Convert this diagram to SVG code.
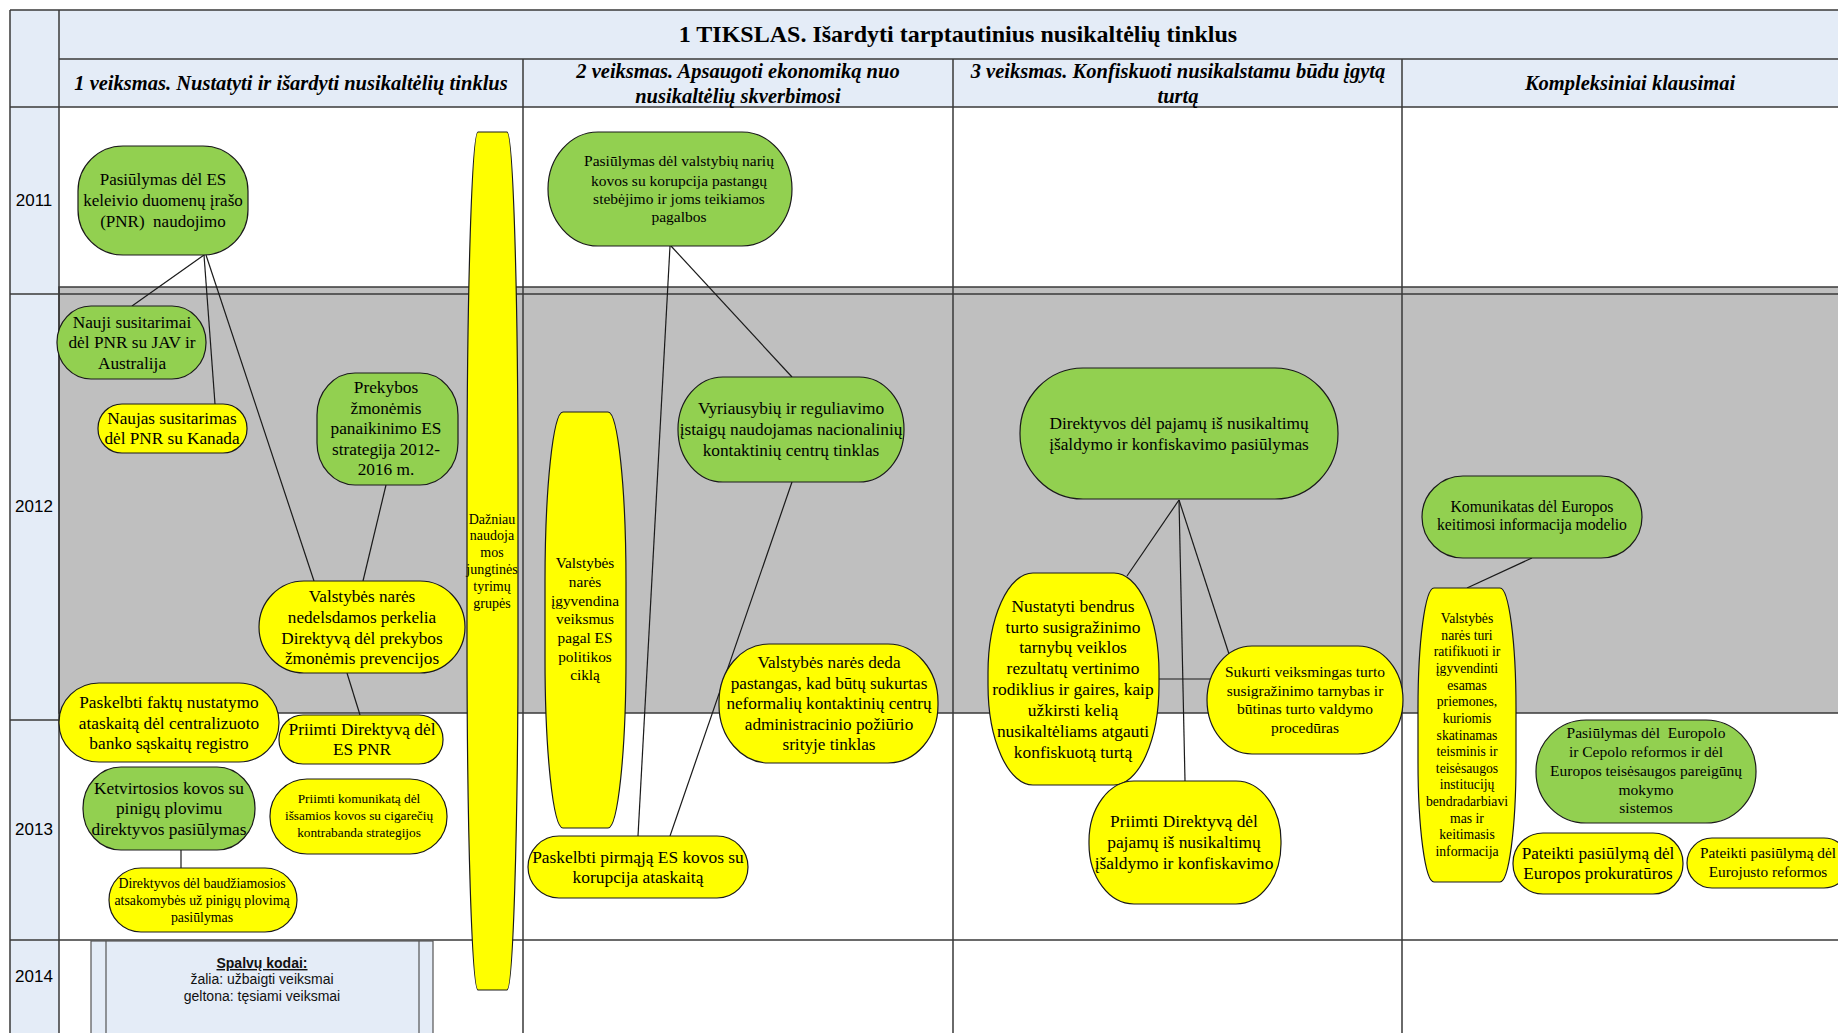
<svg xmlns="http://www.w3.org/2000/svg" width="1838" height="1033" viewBox="0 0 1838 1033">
<style>
.hdr{fill:#E4ECF7}
.grid{stroke:#3a3a3a;stroke-width:1.5;fill:none}
.g{fill:#92D050;stroke:#1a1a1a;stroke-width:1.2}
.y{fill:#FFFF00;stroke:#1a1a1a;stroke-width:1.2}
.t{font-family:"Liberation Serif","Times New Roman",serif;fill:#000;text-anchor:middle}
.yr{font-family:"Liberation Sans",Arial,sans-serif;font-size:17px;fill:#000;text-anchor:middle}
.h{font-family:"Liberation Serif","Times New Roman",serif;font-weight:bold;font-style:italic;font-size:20.5px;text-anchor:middle;fill:#000}
.c{stroke:#1a1a1a;stroke-width:1.2;fill:none}
.lg{font-family:"Liberation Sans",Arial,sans-serif;font-size:14px;text-anchor:middle;fill:#111}
</style>
<rect width="1838" height="1033" fill="#fff"/>
<g id="table">
<rect class="hdr" x="10" y="10" width="49" height="1030"/>
<rect class="hdr" x="59" y="10" width="1790" height="97"/>
<rect x="59" y="287" width="1790" height="426" fill="#BFBFBF" stroke="#3a3a3a" stroke-width="1.5"/>
<path class="grid" d="M10 10H1838M10 10V1040M59 10V1040M59 59H1838M10 107H1838M10 294H1838M10 720H59M10 940H1838M523 59V1040M953 59V1040M1402 59V1040"/>
<text class="t" x="958" y="42" font-size="24" font-weight="bold">1 TIKSLAS. Išardyti tarptautinius nusikaltėlių tinklus</text>
<text class="h" x="291" y="90">1 veiksmas. Nustatyti ir išardyti nusikaltėlių tinklus</text>
<text class="h" x="738" y="78">2 veiksmas. Apsaugoti ekonomiką nuo</text>
<text class="h" x="738" y="103">nusikaltėlių skverbimosi</text>
<text class="h" x="1178" y="78">3 veiksmas. Konfiskuoti nusikalstamu būdu įgytą</text>
<text class="h" x="1178" y="103">turtą</text>
<text class="h" x="1630" y="90">Kompleksiniai klausimai</text>
<text class="yr" x="34" y="206">2011</text>
<text class="yr" x="34" y="512">2012</text>
<text class="yr" x="34" y="835">2013</text>
<text class="yr" x="34" y="982">2014</text>
</g>
<g id="legend">
<rect x="91" y="941" width="342" height="100" fill="#E4ECF7" stroke="#555" stroke-width="1.2"/>
<path d="M106 941V1040M419 941V1040" stroke="#555" stroke-width="1.2"/>
<text class="lg" x="262" y="968" font-weight="bold" text-decoration="underline">Spalvų kodai:</text>
<text class="lg" x="262" y="984">žalia: užbaigti veiksmai</text>
<text class="lg" x="262" y="1001">geltona: tęsiami veiksmai</text>
</g>
<g id="connectors">
<line class="c" x1="204" y1="255" x2="132" y2="306"/>
<line class="c" x1="204" y1="255" x2="215" y2="404"/>
<line class="c" x1="206" y1="255" x2="314" y2="581"/>
<line class="c" x1="386" y1="485" x2="363" y2="581"/>
<line class="c" x1="347" y1="673" x2="360" y2="715"/>
<line class="c" x1="181" y1="850" x2="181" y2="868"/>
<line class="c" x1="671" y1="246" x2="792" y2="377"/>
<line class="c" x1="670" y1="246" x2="638" y2="836"/>
<line class="c" x1="792" y1="482" x2="670" y2="836"/>
<line class="c" x1="1179" y1="500" x2="1127" y2="576"/>
<line class="c" x1="1179" y1="500" x2="1185" y2="781"/>
<line class="c" x1="1179" y1="500" x2="1229" y2="654"/>
<line class="c" x1="1158" y1="679" x2="1210" y2="679"/>
<line class="c" x1="1532" y1="558" x2="1467" y2="588"/>
</g>
<g id="n1"><rect class="g" x="78" y="146" width="170" height="109" rx="45" ry="45"/>
<text class="t" font-size="17" style="white-space:pre"><tspan x="163" y="185">Pasiūlymas dėl ES</tspan><tspan x="163" y="206">keleivio duomenų įrašo</tspan><tspan x="163" y="227">(PNR)  naudojimo</tspan></text></g>
<g id="n2"><rect class="g" x="57" y="306" width="149" height="73" rx="34" ry="36"/>
<text class="t" font-size="17.3"><tspan x="132" y="328">Nauji susitarimai</tspan><tspan x="132" y="348">dėl PNR su JAV ir</tspan><tspan x="132" y="369">Australija</tspan></text></g>
<g id="n3"><rect class="y" x="98" y="404" width="149" height="49" rx="24" ry="24"/>
<text class="t" font-size="17.2"><tspan x="172" y="424">Naujas susitarimas</tspan><tspan x="172" y="444">dėl PNR su Kanada</tspan></text></g>
<g id="n4"><rect class="g" x="317" y="373" width="141" height="112" rx="38" ry="42"/>
<text class="t" font-size="17.3"><tspan x="386" y="393">Prekybos</tspan><tspan x="386" y="414">žmonėmis</tspan><tspan x="386" y="434">panaikinimo ES</tspan><tspan x="386" y="455">strategija 2012-</tspan><tspan x="386" y="475">2016 m.</tspan></text></g>
<g id="n5"><rect class="y" x="259" y="581" width="206" height="92" rx="45" ry="46"/>
<text class="t" font-size="17.2"><tspan x="362" y="602">Valstybės narės</tspan><tspan x="362" y="623">nedelsdamos perkelia</tspan><tspan x="362" y="644">Direktyvą dėl prekybos</tspan><tspan x="362" y="664">žmonėmis prevencijos</tspan></text></g>
<g id="n6"><rect class="y" x="59" y="683" width="220" height="79" rx="40" ry="39"/>
<text class="t" font-size="17.3"><tspan x="169" y="708">Paskelbti faktų nustatymo</tspan><tspan x="169" y="729">ataskaitą dėl centralizuoto</tspan><tspan x="169" y="749">banko sąskaitų registro</tspan></text></g>
<g id="n7"><rect class="y" x="279" y="715" width="164" height="49" rx="24" ry="24"/>
<text class="t" font-size="17.3"><tspan x="362" y="735">Priimti Direktyvą dėl</tspan><tspan x="362" y="755">ES PNR</tspan></text></g>
<g id="n8"><rect class="g" x="83" y="767" width="172" height="83" rx="38" ry="41"/>
<text class="t" font-size="17.3"><tspan x="169" y="794">Ketvirtosios kovos su</tspan><tspan x="169" y="814">pinigų plovimu</tspan><tspan x="169" y="835">direktyvos pasiūlymas</tspan></text></g>
<g id="n9"><rect class="y" x="270" y="779" width="177" height="75" rx="37" ry="37"/>
<text class="t" font-size="13.3"><tspan x="359" y="803">Priimti komunikatą dėl</tspan><tspan x="359" y="820">išsamios kovos su cigarečių</tspan><tspan x="359" y="837">kontrabanda strategijos</tspan></text></g>
<g id="n10"><rect class="y" x="109" y="868" width="188" height="64" rx="32" ry="32"/>
<text class="t" font-size="13.8"><tspan x="202" y="888">Direktyvos dėl baudžiamosios</tspan><tspan x="202" y="905">atsakomybės už pinigų plovimą</tspan><tspan x="202" y="922">pasiūlymas</tspan></text></g>
<g id="n11"><rect class="y" x="467" y="132" width="51" height="858" rx="11" ry="350"/>
<text class="t" font-size="14"><tspan x="492" y="524">Dažniau</tspan><tspan x="492" y="540">naudoja</tspan><tspan x="492" y="557">mos</tspan><tspan x="492" y="574">jungtinės</tspan><tspan x="492" y="591">tyrimų</tspan><tspan x="492" y="608">grupės</tspan></text></g>
<g id="n12"><rect class="g" x="548" y="132" width="244" height="114" rx="50" ry="57"/>
<text class="t" font-size="15.5"><tspan x="679" y="166">Pasiūlymas dėl valstybių narių</tspan><tspan x="679" y="186">kovos su korupcija pastangų</tspan><tspan x="679" y="204">stebėjimo ir joms teikiamos</tspan><tspan x="679" y="222">pagalbos</tspan></text></g>
<g id="n13"><rect class="g" x="678" y="377" width="226" height="105" rx="45" ry="52"/>
<text class="t" font-size="17.3"><tspan x="791" y="414">Vyriausybių ir reguliavimo</tspan><tspan x="791" y="435">įstaigų naudojamas nacionalinių</tspan><tspan x="791" y="456">kontaktinių centrų tinklas</tspan></text></g>
<g id="n14"><rect class="y" x="545" y="412" width="81" height="416" rx="18" ry="170"/>
<text class="t" font-size="15.3"><tspan x="585" y="568">Valstybės</tspan><tspan x="585" y="587">narės</tspan><tspan x="585" y="606">įgyvendina</tspan><tspan x="585" y="624">veiksmus</tspan><tspan x="585" y="643">pagal ES</tspan><tspan x="585" y="662">politikos</tspan><tspan x="585" y="680">ciklą</tspan></text></g>
<g id="n15"><rect class="y" x="719" y="644" width="219" height="119" rx="50" ry="58"/>
<text class="t" font-size="17.2"><tspan x="829" y="668">Valstybės narės deda</tspan><tspan x="829" y="689">pastangas, kad būtų sukurtas</tspan><tspan x="829" y="709">neformalių kontaktinių centrų</tspan><tspan x="829" y="730">administracinio požiūrio</tspan><tspan x="829" y="750">srityje tinklas</tspan></text></g>
<g id="n16"><rect class="y" x="528" y="836" width="220" height="62" rx="31" ry="31"/>
<text class="t" font-size="17.4"><tspan x="638" y="863">Paskelbti pirmąją ES kovos su</tspan><tspan x="638" y="883">korupcija ataskaitą</tspan></text></g>
<g id="n17"><rect class="g" x="1020" y="368" width="318" height="131" rx="63" ry="65"/>
<text class="t" font-size="17.3"><tspan x="1179" y="429">Direktyvos dėl pajamų iš nusikaltimų</tspan><tspan x="1179" y="450">įšaldymo ir konfiskavimo pasiūlymas</tspan></text></g>
<g id="n18"><rect class="y" x="988" y="573" width="171" height="212" rx="45" ry="100"/>
<text class="t" font-size="17.4"><tspan x="1073" y="612">Nustatyti bendrus</tspan><tspan x="1073" y="633">turto susigražinimo</tspan><tspan x="1073" y="653">tarnybų veiklos</tspan><tspan x="1073" y="674">rezultatų vertinimo</tspan><tspan x="1073" y="695">rodiklius ir gaires, kaip</tspan><tspan x="1073" y="716">užkirsti kelią</tspan><tspan x="1073" y="737">nusikaltėliams atgauti</tspan><tspan x="1073" y="758">konfiskuotą turtą</tspan></text></g>
<g id="n19"><rect class="y" x="1207" y="646" width="196" height="108" rx="45" ry="54"/>
<text class="t" font-size="15.5"><tspan x="1305" y="677">Sukurti veiksmingas turto</tspan><tspan x="1305" y="696">susigražinimo tarnybas ir</tspan><tspan x="1305" y="714">būtinas turto valdymo</tspan><tspan x="1305" y="733">procedūras</tspan></text></g>
<g id="n20"><rect class="y" x="1089" y="781" width="192" height="123" rx="45" ry="60"/>
<text class="t" font-size="17.4"><tspan x="1184" y="827">Priimti Direktyvą dėl</tspan><tspan x="1184" y="848">pajamų iš nusikaltimų</tspan><tspan x="1184" y="869">įšaldymo ir konfiskavimo</tspan></text></g>
<g id="n21"><rect class="g" x="1422" y="476" width="220" height="82" rx="41" ry="41"/>
<text class="t" font-size="15.7"><tspan x="1532" y="512">Komunikatas dėl Europos</tspan><tspan x="1532" y="530">keitimosi informacija modelio</tspan></text></g>
<g id="n22"><rect class="y" x="1418" y="588" width="98" height="294" rx="16" ry="120"/>
<text class="t" font-size="13.7"><tspan x="1467" y="623">Valstybės</tspan><tspan x="1467" y="640">narės turi</tspan><tspan x="1467" y="656">ratifikuoti ir</tspan><tspan x="1467" y="673">įgyvendinti</tspan><tspan x="1467" y="690">esamas</tspan><tspan x="1467" y="706">priemones,</tspan><tspan x="1467" y="723">kuriomis</tspan><tspan x="1467" y="740">skatinamas</tspan><tspan x="1467" y="756">teisminis ir</tspan><tspan x="1467" y="773">teisėsaugos</tspan><tspan x="1467" y="789">institucijų</tspan><tspan x="1467" y="806">bendradarbiavi</tspan><tspan x="1467" y="823">mas ir</tspan><tspan x="1467" y="839">keitimasis</tspan><tspan x="1467" y="856">informacija</tspan></text></g>
<g id="n23"><rect class="g" x="1536" y="720" width="220" height="103" rx="50" ry="51"/>
<text class="t" font-size="15.5" style="white-space:pre"><tspan x="1646" y="738">Pasiūlymas dėl  Europolo</tspan><tspan x="1646" y="757">ir Cepolo reformos ir dėl</tspan><tspan x="1646" y="776">Europos teisėsaugos pareigūnų</tspan><tspan x="1646" y="795">mokymo</tspan><tspan x="1646" y="813">sistemos</tspan></text></g>
<g id="n24"><rect class="y" x="1513" y="833" width="170" height="61" rx="30" ry="30"/>
<text class="t" font-size="17.2"><tspan x="1598" y="859">Pateikti pasiūlymą dėl</tspan><tspan x="1598" y="879">Europos prokuratūros</tspan></text></g>
<g id="n25"><rect class="y" x="1687" y="838" width="162" height="50" rx="25" ry="25"/>
<text class="t" font-size="15.3"><tspan x="1768" y="858">Pateikti pasiūlymą dėl</tspan><tspan x="1768" y="877">Eurojusto reformos</tspan></text></g>
</svg>
